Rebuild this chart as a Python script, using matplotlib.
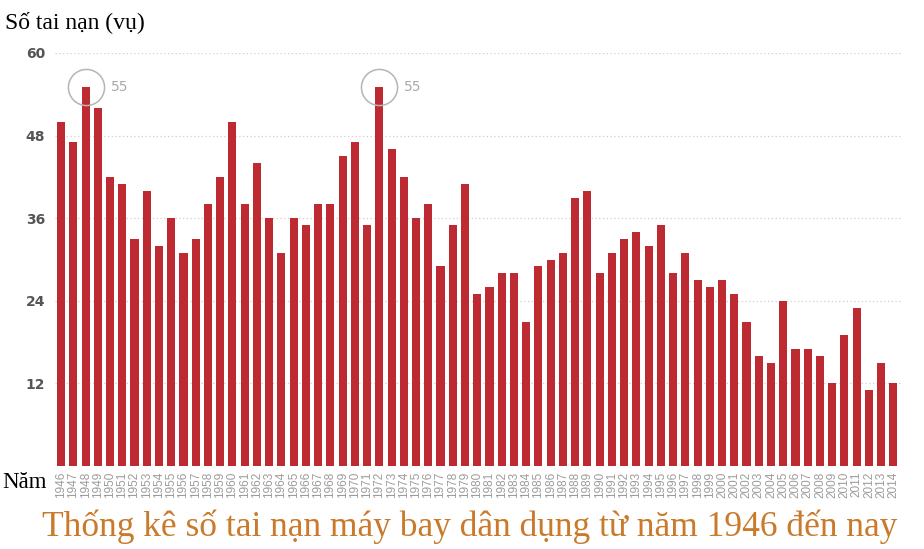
import matplotlib
matplotlib.use('Agg')
import matplotlib.pyplot as plt

# Number of civil aviation accidents per year
years = list(range(1946, 2015))
accidents = [50, 47, 55, 52, 42, 41, 33, 40, 32, 36,
             31, 33, 38, 42, 50, 38, 44, 36, 31, 36,
             35, 38, 38, 45, 47, 35, 55, 46, 42, 36,
             38, 29, 35, 41, 25, 26, 28, 28, 21, 29,
             30, 31, 39, 40, 28, 31, 33, 34, 32, 35,
             28, 31, 27, 26, 27, 25, 21, 16, 15, 24,
             17, 17, 16, 12, 19, 23, 11, 15, 12]
y_ticks = [12, 24, 36, 48, 60]
highlight_years = [1948, 1972]

fig = plt.figure(figsize=(9.24, 5.49), dpi=100)
ax = fig.add_axes([0.0595, 0.151, 0.918, 0.7525])

x = list(range(len(years)))
ax.bar(x, accidents, width=0.66, color='#be2a31', zorder=2)

# dotted horizontal grid
for t in y_ticks:
    ax.axhline(t, color='#cfcfcf', lw=0.9, linestyle=(0, (1, 2)), zorder=1)

ax.set_xlim(-0.5, 68.8)
ax.set_ylim(0, 60)
ax.set_yticks(y_ticks)
ax.set_yticklabels([str(t) for t in y_ticks], fontsize=10, color='#555555',
                   fontweight='bold', family='DejaVu Sans')
ax.set_xticks(x)
ax.set_xticklabels([str(y) for y in years], rotation=90, fontsize=8.5,
                   color='#9c9c9c', family='Liberation Sans')
ax.tick_params(axis='x', length=0, pad=4)
ax.tick_params(axis='y', length=0, pad=7)
for s in ax.spines.values():
    s.set_visible(False)

# circles around peaks
for hy in highlight_years:
    i = years.index(hy)
    v = accidents[i]
    ax.plot(i, v, marker='o', markersize=26, markerfacecolor='none',
            markeredgecolor='#b5b5b5', markeredgewidth=1.1, zorder=3, clip_on=False)
    ax.annotate(str(v), (i, v), xytext=(18, 0), textcoords='offset points',
                fontsize=10, color='#aaaaaa', va='center', ha='left', family='DejaVu Sans')

fig.text(0.005, 1 - 22 / 549, 'Số tai nạn (vụ)', fontsize=17, family='Liberation Serif',
         color='black', va='center', ha='left')
fig.text(0.002, 1 - 482 / 549, 'Năm', fontsize=16.5, family='Liberation Serif',
         color='black', va='center', ha='left')
fig.text(470 / 924, 1 - 527 / 549, 'Thống kê số tai nạn máy bay dân dụng từ năm 1946 đến nay',
         fontsize=25.5, family='Liberation Serif', color='#c97a2b', va='center', ha='center')

fig.savefig('out.png', dpi=100)
